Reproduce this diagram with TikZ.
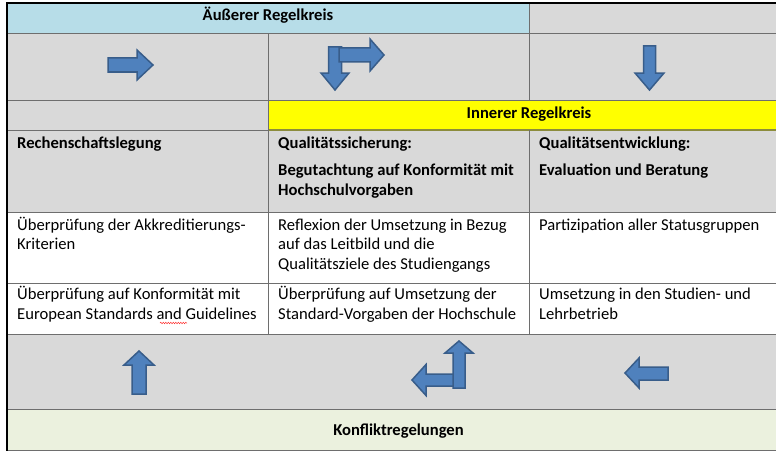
\documentclass[tikz,border=0pt]{standalone}
\usepackage{fontspec}
\setmainfont{Carlito}
\usetikzlibrary{decorations.pathmorphing}
\definecolor{hdrblue}{HTML}{B7DDE8}
\definecolor{cellgray}{HTML}{D9D9D9}
\definecolor{inneryellow}{HTML}{FFFF00}
\definecolor{conflictgreen}{HTML}{EBF1DE}
\definecolor{arrowfill}{HTML}{4F81BD}
\definecolor{arrowline}{HTML}{385D8A}
\definecolor{gridgray}{HTML}{6E6E6E}
\definecolor{olive}{HTML}{8C8C3C}
\begin{document}
\begin{tikzpicture}[x=1pt,y=-1pt,
  txt/.style={inner sep=0pt, anchor=base west, font=\fontsize{16.6}{19.5}\selectfont},
  btxt/.style={txt, font=\fontsize{16.6}{19.5}\selectfont\bfseries},
  ctxt/.style={btxt, anchor=base},
  grid/.style={draw=gridgray, line width=1pt},
  frame/.style={draw=black, line width=1.6pt},
  blockarrow/.style={fill=arrowfill, draw=arrowline, line width=1.5pt, line join=miter}]
\useasboundingbox (0,0) rectangle (776,452);
\clip (0,0) rectangle (776,452);
% fills
\fill[white] (0,0) rectangle (776,452);
\fill[hdrblue] (7,3) rectangle (529,34);
\fill[cellgray] (529,3) rectangle (790,34);
\fill[cellgray] (7,34) rectangle (790,100);
\fill[cellgray] (7,100) rectangle (268,130);
\fill[inneryellow] (268,100) rectangle (790,130);
\fill[cellgray] (7,130) rectangle (790,212);
\fill[cellgray] (7,334) rectangle (790,409);
\fill[conflictgreen] (7,409) rectangle (790,450);
% grid lines
\draw[grid] (7,34) -- (790,34);
\draw[grid] (7,100) -- (790,100);
\draw[grid] (7,130) -- (268,130);
\draw[draw=olive, line width=1.2pt] (268,130) -- (790,130);
\draw[grid] (7,212) -- (790,212);
\draw[grid] (7,283) -- (790,283);
\draw[grid] (7,334) -- (790,334);
\draw[grid] (7,409) -- (790,409);
\draw[grid] (7,450) -- (790,450);
\draw[grid] (529,3) -- (529,100);
\draw[grid] (529,130) -- (529,334);
\draw[grid] (268,34) -- (268,334);
\draw[frame] (7,450.5) -- (7,3) -- (790,3);
% header texts
\node[ctxt] (outer) at (268,21) {Äußerer Regelkreis};
\node[ctxt] (inner) at (529,118) {Innerer Regelkreis};
\node[ctxt] (konflikt) at (398.5,435) {Konfliktregelungen};
% row 4
\node[btxt] (r4c1) at (17,148) {Rechenschaftslegung};
\node[btxt] (r4c2a) at (278,148) {Qualitätssicherung:};
\node[btxt] (r4c2b) at (278,175.5) {Begutachtung auf Konformität mit};
\node[btxt] (r4c2c) at (278,195.5) {Hochschulvorgaben};
\node[btxt] (r4c3a) at (539,148) {Qualitätsentwicklung:};
\node[btxt] (r4c3b) at (539,175.5) {Evaluation und Beratung};
% row 5
\node[txt] (r5c1a) at (17,230) {Überprüfung der Akkreditierungs-};
\node[txt] (r5c1b) at (17,249.5) {Kriterien};
\node[txt] (r5c2a) at (278,230) {Reflexion der Umsetzung in Bezug};
\node[txt] (r5c2b) at (278,249.5) {auf das Leitbild und die};
\node[txt] (r5c2c) at (278,269) {Qualitätsziele des Studiengangs};
\node[txt] (r5c3a) at (539,230) {Partizipation aller Statusgruppen};
% row 6
\node[txt] (r6c1a) at (17,299.5) {Überprüfung auf Konformität mit};
\node[txt] (r6c1b) at (17,319) {European Standards and Guidelines};
\node[txt] (r6c2a) at (278,299.5) {Überprüfung auf Umsetzung der};
\node[txt] (r6c2b) at (278,319) {Standard-Vorgaben der Hochschule};
\node[txt] (r6c3a) at (539,299.5) {Umsetzung in den Studien- und};
\node[txt] (r6c3b) at (539,319) {Lehrbetrieb};
% spell-check squiggle
\draw[red!80!white, line width=0.5pt, decorate, decoration={snake, amplitude=0.7pt, segment length=2.5pt}] (160,323) -- (187,323);
% arrows row 2
\draw[blockarrow] (108,58) -- (137,58) -- (137,50) -- (153,65) -- (137,80) -- (137,72) -- (108,72) -- cycle;
\draw[blockarrow] (328.5,47) -- (341.5,47) -- (341.5,73) -- (349,73) -- (335,90) -- (321,73) -- (328.5,73) -- cycle;
\draw[blockarrow] (339,48) -- (370,48) -- (370,39) -- (384,55) -- (370,71) -- (370,62) -- (339,62) -- cycle;
\draw[blockarrow] (643.5,46) -- (655.5,46) -- (655.5,73) -- (664,73) -- (649.5,90) -- (635,73) -- (643.5,73) -- cycle;
% arrows row 7
\draw[blockarrow] (132,394) -- (146,394) -- (146,365) -- (154,365) -- (139,351) -- (124,365) -- (132,365) -- cycle;
\draw[blockarrow] (455,374) -- (426,374) -- (426,364.5) -- (412,380) -- (426,395.5) -- (426,386) -- (455,386) -- cycle;
\draw[blockarrow] (453,388) -- (465,388) -- (465,353) -- (473,353) -- (459,341) -- (445,353) -- (453,353) -- cycle;
\draw[blockarrow] (668,367) -- (639,367) -- (639,358) -- (625,373) -- (639,388) -- (639,380) -- (668,380) -- cycle;
\end{tikzpicture}
\end{document}
